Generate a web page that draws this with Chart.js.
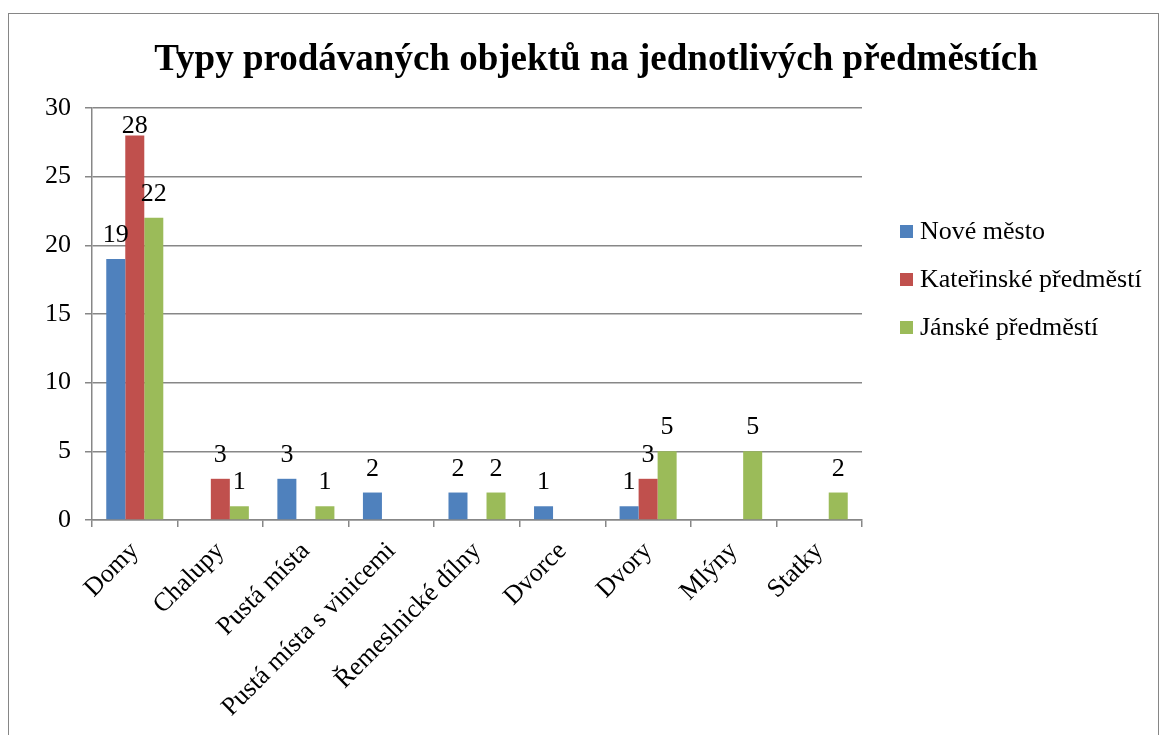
<!DOCTYPE html>
<html>
<head>
<meta charset="utf-8">
<script src="https://cdn.jsdelivr.net/npm/chart.js@4/dist/chart.umd.min.js"></script>
<style>
  html, body { margin: 0; padding: 0; background: #fff; }
  #wrap { position: relative; width: 1167px; height: 735px; overflow: hidden; }
  #frame { position: absolute; left: 8px; top: 13px; width: 1151px; height: 740px; border: 1px solid #868686; box-sizing: border-box; }
  #chart { position: absolute; left: 0; top: 0; }
</style>
</head>
<body>
<div id="wrap">
  <div id="frame"></div>
  <canvas id="chart" width="1167" height="735"></canvas>
</div>
<script>
// kategorie a hodnoty
const categories = ["Domy", "Chalupy", "Pustá místa", "Pustá místa s vinicemi", "Řemeslnické dílny", "Dvorce", "Dvory", "Mlýny", "Statky"];
const noveMesto = [19, null, 3, 2, 2, 1, 1, null, null];
const katerinske = [28, 3, null, null, null, null, 3, null, null];
const janske = [22, 1, 1, null, 2, null, 5, 5, 2];
const yTicks = [0, 5, 10, 15, 20, 25, 30];
const titleText = "Typy prodávaných objektů na jednotlivých předměstích";

const serif = "'Liberation Serif', 'Times New Roman', serif";
const gridColor = "#878787";

// nadpis nad celym grafem
const bigTitle = {
  id: 'bigTitle',
  afterDraw(chart) {
    const ctx = chart.ctx;
    ctx.save();
    ctx.font = "bold 37px " + serif;
    ctx.fillStyle = "#000";
    ctx.textAlign = "center";
    ctx.textBaseline = "alphabetic";
    ctx.fillText(titleText, 596, 70);
    ctx.restore();
  }
};

// popisky hodnot nad sloupci
const valueLabels = {
  id: 'valueLabels',
  afterDatasetsDraw(chart) {
    const ctx = chart.ctx;
    const top = chart.chartArea.top;
    ctx.save();
    ctx.font = "26px " + serif;
    ctx.fillStyle = "#000";
    ctx.textAlign = "center";
    ctx.textBaseline = "alphabetic";
    chart.data.datasets.forEach((ds, i) => {
      chart.getDatasetMeta(i).data.forEach((bar, j) => {
        const v = ds.data[j];
        if (v == null) return;
        const y = Math.max(bar.y - 17, top + 25);
        ctx.fillText(String(v), bar.x, y);
      });
    });
    ctx.restore();
  }
};

// legenda vpravo
const sideLegend = {
  id: 'sideLegend',
  afterDraw(chart) {
    const ctx = chart.ctx;
    ctx.save();
    ctx.font = "26px " + serif;
    ctx.textBaseline = "alphabetic";
    ctx.textAlign = "left";
    chart.data.datasets.forEach((ds, i) => {
      const base = 239 + i * 48;
      ctx.fillStyle = ds.backgroundColor;
      ctx.fillRect(900, base - 14, 13, 13);
      ctx.fillStyle = "#000";
      ctx.fillText(ds.label, 920, base);
    });
    ctx.restore();
  }
};

const data = {
  labels: categories,
  datasets: [
    { label: "Nové město", data: noveMesto, backgroundColor: "#4F81BD" },
    { label: "Kateřinské předměstí", data: katerinske, backgroundColor: "#C0504D" },
    { label: "Jánské předměstí", data: janske, backgroundColor: "#9BBB59" }
  ]
};

new Chart(document.getElementById('chart'), {
  type: 'bar',
  data: data,
  plugins: [valueLabels, sideLegend, bigTitle],
  options: {
    responsive: false,
    animation: false,
    layout: { padding: { left: 0, right: 305, top: 108, bottom: 0 } },
    categoryPercentage: 3 / 4.5,
    barPercentage: 1,
    plugins: {
      legend: { display: false },
      tooltip: { enabled: false },
      title: { display: false }
    },
    scales: {
      x: {
        grid: { drawOnChartArea: false, drawTicks: true, tickLength: 7, color: gridColor, lineWidth: 1.5, offset: true },
        border: { color: gridColor, width: 1.5 },
        ticks: { color: "#000", font: { family: serif, size: 26 }, minRotation: 45, maxRotation: 45, padding: 9 },
        afterFit(s) { s.height = 215; }
      },
      y: {
        min: 0, max: 30,
        afterBuildTicks(s) { s.ticks = yTicks.map(v => ({ value: v })); },
        grid: { color: gridColor, lineWidth: 1.5, tickLength: 7 },
        border: { color: gridColor, width: 1.5 },
        ticks: { color: "#000", font: { family: serif, size: 26 }, padding: 14 },
        afterFit(s) { s.width = 92; }
      }
    }
  }
});
</script>
</body>
</html>
